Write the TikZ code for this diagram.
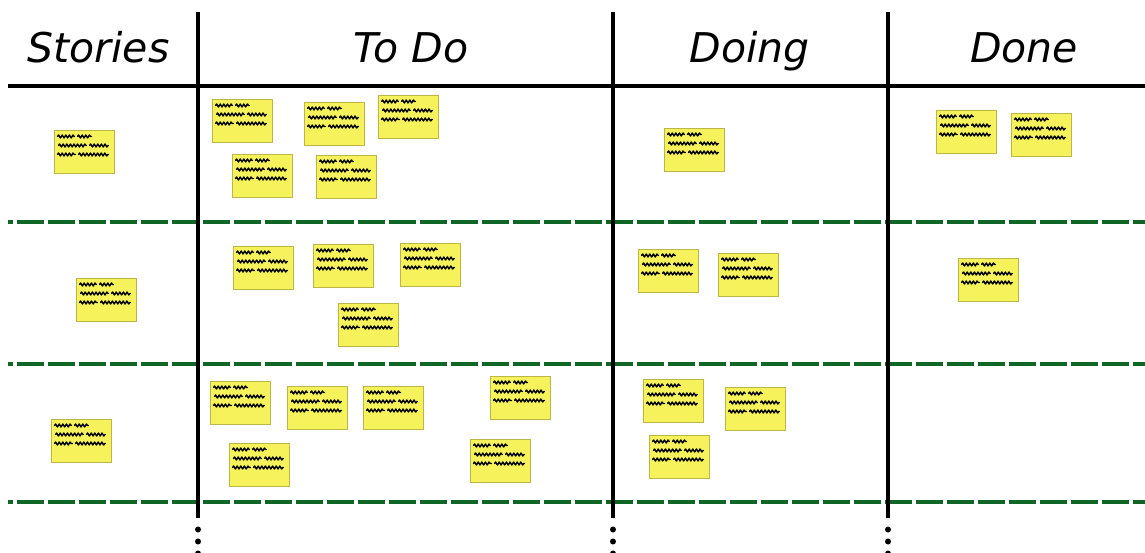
\documentclass[tikz,border=0pt]{standalone}
\usepackage{fontspec}
\setmainfont{DejaVu Sans}
\usetikzlibrary{decorations.pathmorphing}
\definecolor{noteyellow}{RGB}{245,242,92}
\definecolor{noteedge}{RGB}{188,182,72}
\definecolor{lanegreen}{RGB}{16,102,38}
\tikzset{
  scrib/.style={draw=black, line width=1.4pt, line cap=round, line join=round,
    decorate, decoration={snake, segment length=3.6pt, amplitude=1.5pt}},
  note/.style={draw=noteedge, line width=1pt, fill=noteyellow,
    minimum width=60pt, minimum height=43pt, inner sep=0pt, anchor=north west,
    path picture={
      \coordinate (o) at (path picture bounding box.north west);
      \draw[scrib] ([shift={(3pt,-6pt)}]o)  -- ([shift={(20pt,-6pt)}]o);
      \draw[scrib] ([shift={(23pt,-6pt)}]o) -- ([shift={(37pt,-6pt)}]o);
      \draw[scrib] ([shift={(4pt,-15pt)}]o) -- ([shift={(32pt,-15pt)}]o);
      \draw[scrib] ([shift={(35pt,-15pt)}]o) -- ([shift={(54pt,-15pt)}]o);
      \draw[scrib] ([shift={(3pt,-24pt)}]o) -- ([shift={(21pt,-24pt)}]o);
      \draw[scrib] ([shift={(24pt,-24pt)}]o) -- ([shift={(54pt,-24pt)}]o);
    }},
  column/.style={line width=3.4pt, draw=black},
  lane/.style={line width=3.6pt, draw=lanegreen, dash pattern=on 27pt off 4pt, dash phase=22pt},
  dot/.style={circle, fill=black, inner sep=0pt, minimum size=6pt},
  head/.style={anchor=base, font=\fontsize{41}{49}\selectfont\itshape}
}
\begin{document}
\begin{tikzpicture}[x=1pt,y=-1pt]
\clip (0,0) rectangle (1145,553);
\fill[white] (0,0) rectangle (1145,553);

% column headers
\node[head] (hs) at (98.5,63) {Stories};
\node[head] (ht) at (411,63) {To Do};
\node[head] (hd) at (749.5,63) {Doing};
\node[head] (hn) at (1024,63) {Done};

% swimlane separators
\draw[lane] (8,222) -- (1145,222);
\draw[lane] (8,364) -- (1145,364);
\draw[lane] (8,502) -- (1145,502);

% header rule and column dividers
\draw[column] (8,86) -- (1145,86);
\foreach \x/\n in {198/a,613/b,888/c}{
  \coordinate (top\n) at (\x,12);
  \coordinate (bot\n) at (\x,518);
  \draw[column] (top\n) -- (bot\n);
  \node[dot] (d1\n) at (\x,529.5) {};
  \node[dot] (d2\n) at (\x,541.5) {};
  \node[dot] (d3\n) at (\x,553.5) {};
}

% lane 1
\node[note] (s1)  at (54,130) {};
\node[note] (t11) at (212,99) {};
\node[note] (t12) at (304,102) {};
\node[note] (t13) at (378,95) {};
\node[note] (t14) at (232,154) {};
\node[note] (t15) at (316,155) {};
\node[note] (g11) at (664,128) {};
\node[note] (n11) at (936,110) {};
\node[note] (n12) at (1011,113) {};

% lane 2
\node[note] (s2)  at (76,278) {};
\node[note] (t21) at (233,246) {};
\node[note] (t22) at (313,244) {};
\node[note] (t23) at (400,243) {};
\node[note] (t24) at (338,303) {};
\node[note] (g21) at (638,249) {};
\node[note] (g22) at (718,253) {};
\node[note] (n21) at (958,258) {};

% lane 3
\node[note] (s3)  at (51,419) {};
\node[note] (t31) at (210,381) {};
\node[note] (t32) at (287,386) {};
\node[note] (t33) at (363,386) {};
\node[note] (t34) at (490,376) {};
\node[note] (t35) at (229,443) {};
\node[note] (t36) at (470,439) {};
\node[note] (g31) at (643,379) {};
\node[note] (g32) at (725,387) {};
\node[note] (g33) at (649,435) {};
\end{tikzpicture}
\end{document}
